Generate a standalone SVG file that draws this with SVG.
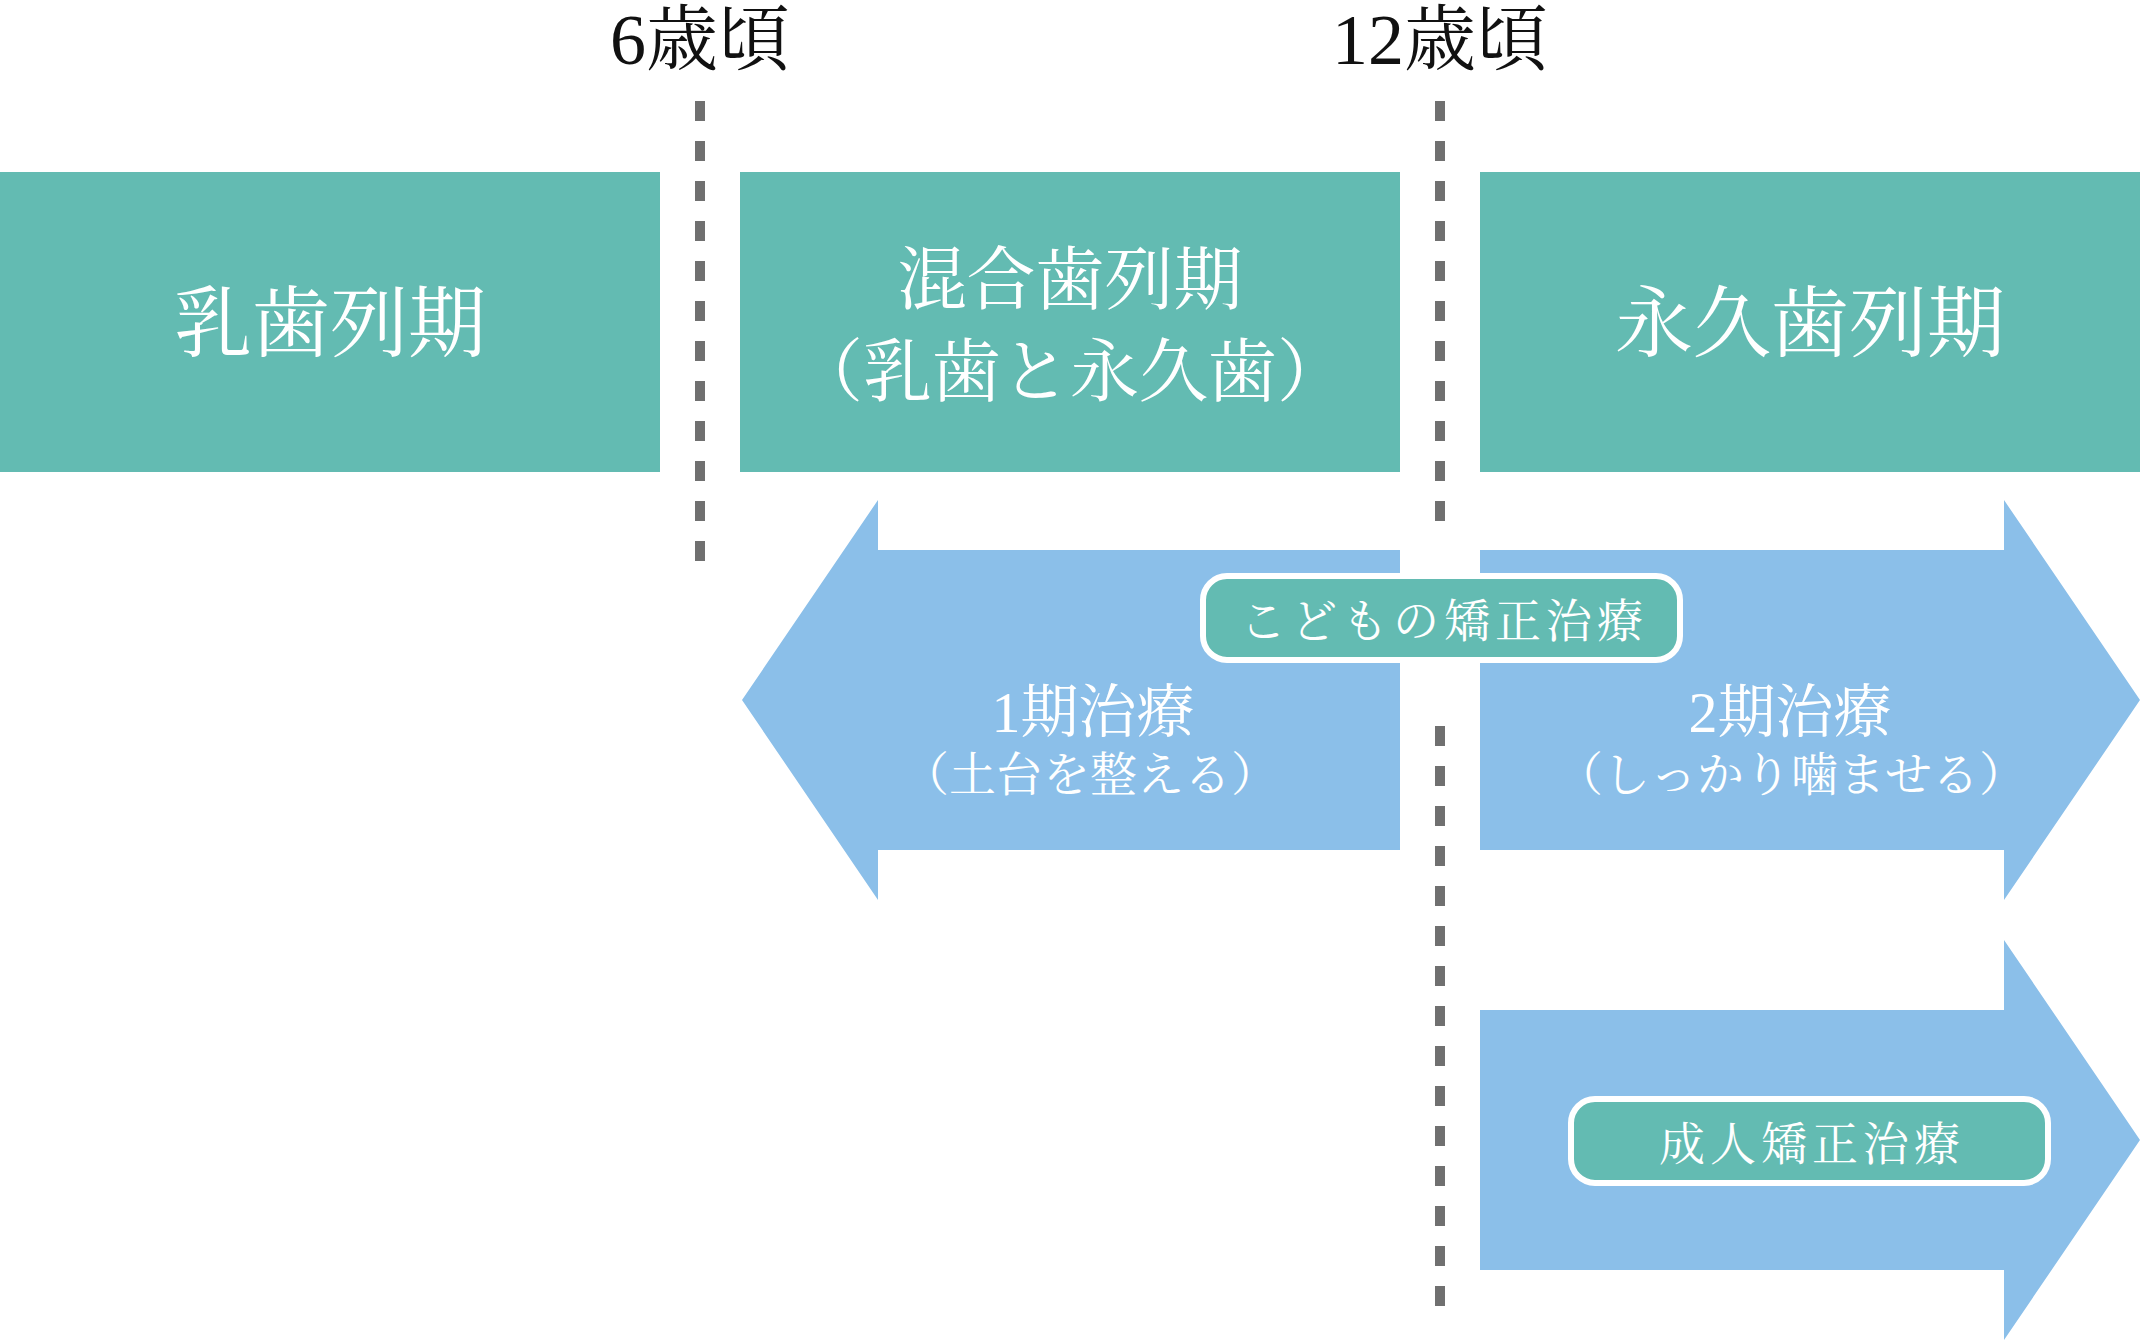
<svg xmlns="http://www.w3.org/2000/svg" width="2140" height="1340" viewBox="0 0 2140 1340">
<style>
.box{fill:#63BBB2}
.arr{fill:#8BBFE9}
.pill{fill:#63BBB2;stroke:#FFFFFF;stroke-width:6}
.dash{stroke:#707070;stroke-width:10;stroke-dasharray:20 20;fill:none}
text{font-family:"Liberation Serif","Noto Serif CJK JP","Noto Sans CJK JP",serif;fill:#FFFFFF;text-anchor:middle}
.age{fill:#111111;font-size:72px}
.big{font-size:78px}
.mid{font-size:69px}
.t1{font-size:58px}
.t2{font-size:47px}
.pt{font-size:46px;letter-spacing:5px}
</style>
<rect width="2140" height="1340" fill="#FFFFFF"/>
<g id="dividers">
<line class="dash" x1="700" y1="101" x2="700" y2="561"/>
<line class="dash" x1="1440" y1="101" x2="1440" y2="521"/>
<line class="dash" x1="1440" y1="726" x2="1440" y2="1306"/>
</g>
<g id="age6"><text class="age" x="700" y="64">6歳頃</text></g>
<g id="age12"><text class="age" x="1440" y="64">12歳頃</text></g>
<g id="primary">
<rect class="box" x="0" y="172" width="660" height="300"/>
<text class="big" x="330" y="351">乳歯列期</text>
</g>
<g id="mixed">
<rect class="box" x="740" y="172" width="660" height="300"/>
<text class="mid" x="1070" y="304">混合歯列期</text>
<text class="mid" x="1070" y="396">（乳歯と永久歯）</text>
</g>
<g id="permanent">
<rect class="box" x="1480" y="172" width="660" height="300"/>
<text class="big" x="1810" y="351">永久歯列期</text>
</g>
<g id="phase1">
<polygon class="arr" points="742,700 878,500 878,550 1400,550 1400,850 878,850 878,900"/>
<text class="t1" x="1093" y="732">1期治療</text>
<text class="t2" x="1090" y="791">（土台を整える）</text>
</g>
<g id="phase2">
<polygon class="arr" points="1480,550 2004,550 2004,500 2140,700 2004,900 2004,850 1480,850"/>
<text class="t1" x="1790" y="732">2期治療</text>
<text class="t2" x="1791" y="791">（しっかり噛ませる）</text>
</g>
<g id="adult">
<polygon class="arr" points="1480,1010 2004,1010 2004,940 2140,1140 2004,1340 2004,1270 1480,1270"/>
</g>
<g id="child-label">
<rect class="pill" x="1203" y="576" width="477" height="84" rx="24"/>
<text class="pt" x="1444" y="637">こどもの矯正治療</text>
</g>
<g id="adult-label">
<rect class="pill" x="1571" y="1099" width="477" height="84" rx="24"/>
<text class="pt" x="1812" y="1160">成人矯正治療</text>
</g>
<g id="connectors"></g>
</svg>
